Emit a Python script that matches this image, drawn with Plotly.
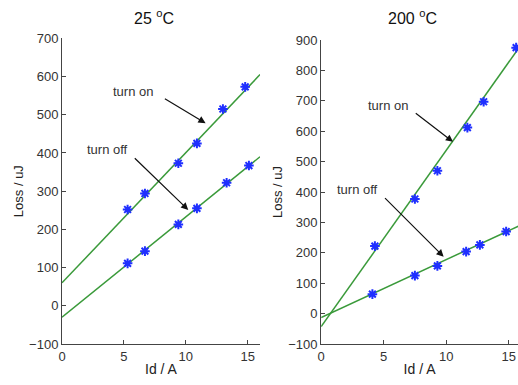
import plotly.graph_objects as go

# 25 C measurements
id_on_25 = [5.3, 6.7, 9.4, 10.9, 13.0, 14.8]
loss_on_25 = [252, 294, 373, 425, 515, 573]
id_off_25 = [5.3, 6.7, 9.4, 10.9, 13.3, 15.1]
loss_off_25 = [111, 143, 213, 255, 322, 367]

# 200 C measurements
id_on_200 = [4.3, 7.5, 9.3, 11.7, 13.0, 15.6]
loss_on_200 = [222, 377, 470, 612, 697, 875]
id_off_200 = [4.1, 7.5, 9.3, 11.6, 12.7, 14.8]
loss_off_200 = [64, 125, 157, 204, 226, 270]

# fitted lines (endpoints)
fit_x_25 = [0, 16]
fit_on_25 = [60, 605]
fit_off_25 = [-30, 390]
fit_x_200 = [0, 15.8]
fit_on_200 = [-43, 873]
fit_off_200 = [-13, 288]

font = "Liberation Sans, Arial, sans-serif"
green = "#3a9a3a"
blue = "#1f2fff"

fig = go.Figure()


def add_set(xs, ys, fx, fy, xa, ya):
    fig.add_trace(go.Scatter(x=fx, y=fy, mode="lines", line=dict(color=green, width=1.5),
                             xaxis=xa, yaxis=ya, showlegend=False))
    fig.add_trace(go.Scatter(x=xs, y=ys, mode="markers",
                             marker=dict(symbol="asterisk", size=8, color=blue,
                                         line=dict(color=blue, width=2)),
                             xaxis=xa, yaxis=ya, showlegend=False))


add_set(id_on_25, loss_on_25, fit_x_25, fit_on_25, "x", "y")
add_set(id_off_25, loss_off_25, fit_x_25, fit_off_25, "x", "y")
add_set(id_on_200, loss_on_200, fit_x_200, fit_on_200, "x2", "y2")
add_set(id_off_200, loss_off_200, fit_x_200, fit_off_200, "x2", "y2")

axis_common = dict(showline=True, linecolor="#444", linewidth=1, ticks="inside", ticklen=4,
                   tickcolor="#444", showgrid=False, zeroline=False, automargin=False,
                   tickfont=dict(family=font, size=13, color="#333"))

xtitle = dict(text="Id / A", font=dict(family=font, size=14, color="#222"), standoff=1)
ytitle = dict(text="Loss / uJ", font=dict(family=font, size=13, color="#222"), standoff=2)

fig.update_layout(
    width=518, height=385,
    margin=dict(l=0, r=0, t=0, b=0, autoexpand=False),
    plot_bgcolor="white", paper_bgcolor="white",
    xaxis=dict(domain=[0.1197, 0.502], range=[0, 16], dtick=5, anchor="y",
               title=xtitle, **axis_common),
    yaxis=dict(domain=[0.1065, 0.9005], range=[-100, 700], dtick=100, anchor="x",
               title=ytitle, **axis_common),
    xaxis2=dict(domain=[0.62, 1.0], range=[0, 15.75], dtick=5, anchor="y2",
                title=xtitle, **axis_common),
    yaxis2=dict(domain=[0.1065, 0.896], range=[-100, 900], dtick=100, anchor="x2",
                title=ytitle, **axis_common),
)

titles = [("25 <sup>o</sup>C", 0.297), ("200 <sup>o</sup>C", 0.796)]
for t, xp in titles:
    fig.add_annotation(text=t, x=xp, y=1 - 17 / 385, xref="paper", yref="paper", showarrow=False,
                       xanchor="center", yanchor="middle",
                       font=dict(family=font, size=16, color="#111"))

labels = [
    ("turn on", 5.76, 560, 8.19, 544, 11.6, 478, "x", "y"),
    ("turn off", 3.65, 408, 5.76, 390, 10.2, 251, "x", "y"),
    ("turn on", 5.37, 686, 7.45, 663, 10.55, 565, "x2", "y2"),
    ("turn off", 2.92, 407, 4.99, 385, 9.8, 187, "x2", "y2"),
]
for txt, tx, ty, ax, ay, hx, hy, xr, yr in labels:
    fig.add_annotation(text=txt, x=tx, y=ty, xref=xr, yref=yr, showarrow=False,
                       font=dict(family=font, size=13, color="#333"))
    fig.add_annotation(text="", x=hx, y=hy, ax=ax, ay=ay, xref=xr, yref=yr,
                       axref=xr, ayref=yr, showarrow=True, arrowhead=2, arrowsize=1.2,
                       arrowwidth=1.2, arrowcolor="#111")

fig.write_html("out.html", config={"displayModeBar": False},
               post_script="document.body.style.margin='0';")
